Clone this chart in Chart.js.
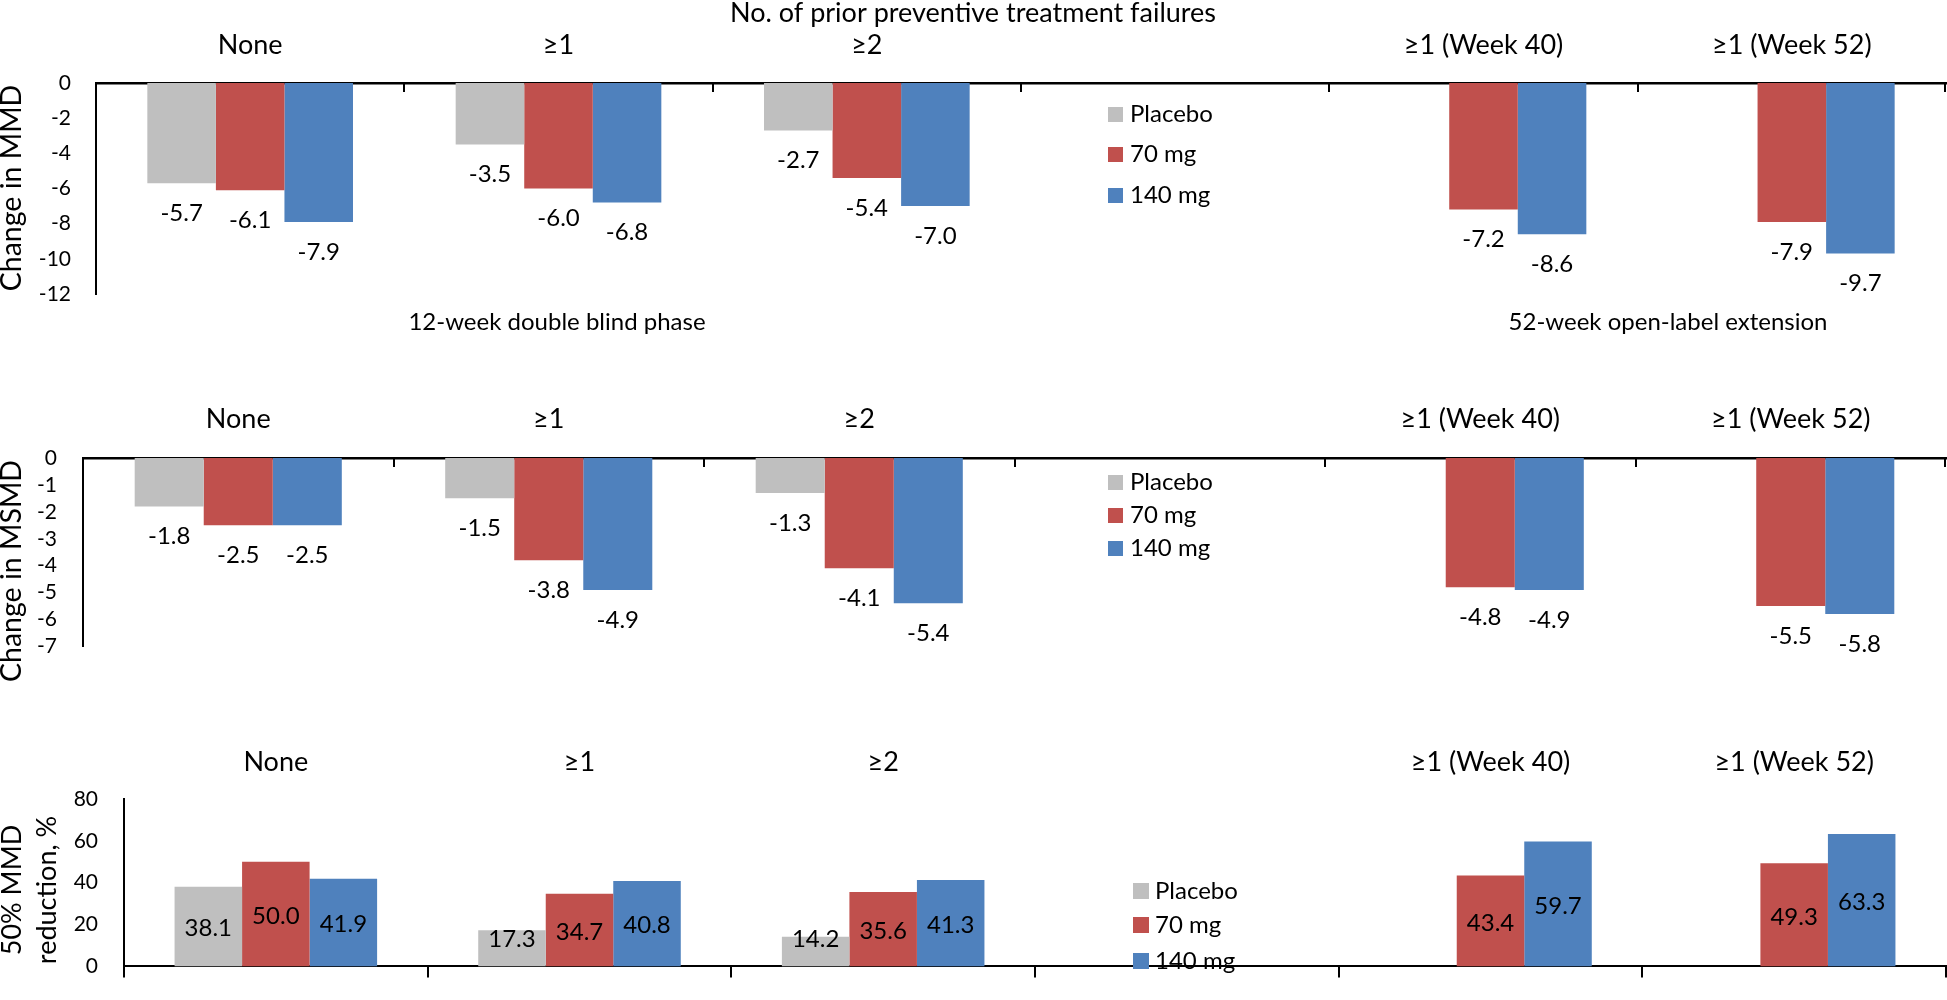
<!DOCTYPE html>
<html><head><meta charset="utf-8">
<script src="https://cdn.jsdelivr.net/npm/chart.js@4.4.1/dist/chart.umd.min.js"></script>
<style>
html,body{margin:0;padding:0;background:#fff;}
#wrap{position:relative;width:1947px;height:1000px;overflow:hidden;background:#fff;}
canvas{position:absolute;left:0;}
</style></head><body>
<div id="wrap">
<canvas id="c1" width="1947" height="340" style="top:0px"></canvas>
<canvas id="c2" width="1947" height="345" style="top:340px"></canvas>
<canvas id="c3" width="1947" height="345" style="top:660px"></canvas>
</div>
<script>
// ---- data ----
const categories = ['None', '≥1', '≥2', '', '≥1 (Week 40)', '≥1 (Week 52)'];
const seriesNames = ['Placebo', '70 mg', '140 mg'];

const mmdPlacebo = [-5.7, -3.5, -2.7, null, null, null];
const mmd70mg    = [-6.1, -6.0, -5.4, null, -7.2, -7.9];
const mmd140mg   = [-7.9, -6.8, -7.0, null, -8.6, -9.7];

const msmdPlacebo = [-1.8, -1.5, -1.3, null, null, null];
const msmd70mg    = [-2.5, -3.8, -4.1, null, -4.8, -5.5];
const msmd140mg   = [-2.5, -4.9, -5.4, null, -4.9, -5.8];

const respPlacebo = [38.1, 17.3, 14.2, null, null, null];
const resp70mg    = [50.0, 34.7, 35.6, null, 43.4, 49.3];
const resp140mg   = [41.9, 40.8, 41.3, null, 59.7, 63.3];

const mmdTicks  = [0, -2, -4, -6, -8, -10, -12];
const msmdTicks = [0, -1, -2, -3, -4, -5, -6, -7];
const respTicks = [0, 20, 40, 60, 80];

// ---- styles ----
const seriesColors = ['#BFBFBF', '#C0504D', '#4F81BD'];
const FONT = 'Lato, "Open Sans", sans-serif';
Chart.defaults.font.family = FONT;
Chart.defaults.color = '#000';

const decor = {
  id: 'decor',
  afterDatasetsDraw(chart, args, o) {
    const ctx = chart.ctx, area = chart.chartArea, xs = chart.scales.x;
    ctx.save();
    if (o.innerTicks) {
      const w = xs.getPixelForValue(1) - xs.getPixelForValue(0);
      const x0 = xs.getPixelForValue(0) - w / 2;
      ctx.strokeStyle = '#000'; ctx.lineWidth = 2;
      for (let i = 1; i <= categories.length; i++) {
        let x = Math.round(x0 + i * w);
        if (i === categories.length) x -= 1;
        ctx.beginPath(); ctx.moveTo(x, area.top); ctx.lineTo(x, area.top + o.innerTicks); ctx.stroke();
      }
    }
    // value labels
    ctx.font = '24px ' + FONT; ctx.fillStyle = '#000';
    ctx.textAlign = 'center'; ctx.textBaseline = 'middle';
    chart.data.datasets.forEach((ds, di) => {
      chart.getDatasetMeta(di).data.forEach((el, i) => {
        const v = ds.data[i];
        if (v === null || v === undefined) return;
        let y;
        if (o.labelMode === 'below') y = el.y + 30;
        else y = Math.min((el.y + el.base) / 2 + 2, el.base - 27);
        ctx.fillText(v.toFixed(1), el.x, y);
      });
    });
    // legend
    const lg = o.legend;
    seriesNames.forEach((n, k) => {
      const cy = lg.rows[k];
      ctx.fillStyle = seriesColors[k];
      ctx.fillRect(lg.x, Math.round(cy - lg.size / 2), lg.size, lg.size);
      ctx.fillStyle = '#000'; ctx.textAlign = 'left';
      ctx.fillText(n, lg.textX, cy);
    });
    // y-axis title
    ctx.font = o.yTitleSize + 'px ' + FONT; ctx.textAlign = 'center';
    o.yTitle.forEach(t => {
      ctx.save(); ctx.translate(t.x, t.y); ctx.rotate(-Math.PI / 2);
      ctx.fillText(t.text, 0, 0); ctx.restore();
    });
    // notes
    ctx.font = '24px ' + FONT;
    (o.notes || []).forEach(t => ctx.fillText(t.text, t.x, t.y));
    ctx.restore();
  }
};

function datasets(a, b, c) {
  return [a, b, c].map((d, k) => ({
    label: seriesNames[k], data: d, backgroundColor: seriesColors[k],
    borderWidth: 0, categoryPercentage: 0.667, barPercentage: 1.0
  }));
}

function yScale(ticksArr, width, pad) {
  return {
    min: Math.min(...ticksArr), max: Math.max(...ticksArr),
    afterBuildTicks(s) { s.ticks = ticksArr.map(v => ({ value: v })); },
    ticks: { font: { size: 21 }, padding: pad, color: '#000', autoSkip: false },
    grid: { display: false, drawTicks: false },
    border: { display: true, color: '#000', width: 2 },
    afterFit(s) { s.width = width; }
  };
}

function topLabels(height, pad, showBorder) {
  return {
    position: 'top', type: 'category', labels: categories, offset: true,
    grid: { display: false, drawTicks: false },
    border: { display: showBorder, color: '#000', width: 2.5 },
    ticks: { font: { size: 27 }, padding: pad, color: '#000', maxRotation: 0, autoSkip: false },
    afterFit(s) { s.height = height; }
  };
}

const base = { responsive: false, animation: false, devicePixelRatio: 1, events: [] };

// Panel 1: change in MMD
new Chart(document.getElementById('c1'), {
  type: 'bar',
  data: { labels: categories, datasets: datasets(mmdPlacebo, mmd70mg, mmd140mg) },
  options: Object.assign({}, base, {
    layout: { padding: { top: 0, left: 0, right: 1, bottom: 46 } },
    plugins: {
      legend: { display: false }, tooltip: { enabled: false },
      title: { display: true, text: 'No. of prior preventive treatment failures',
        font: { size: 27, weight: 'normal', lineHeight: 1.0 }, color: '#000', padding: 0 },
      decor: {
        innerTicks: 9, labelMode: 'below',
        legend: { x: 1108, textX: 1130, size: 15, rows: [114, 154, 195] },
        yTitleSize: 28.5,
        yTitle: [{ text: 'Change in MMD', x: 12, y: 188 }],
        notes: [{ text: '12-week double blind phase', x: 557, y: 322 },
                { text: '52-week open-label extension', x: 1668, y: 322 }]
      }
    },
    scales: { x: topLabels(56, 21.8, true), y: yScale(mmdTicks, 96, 25) }
  }),
  plugins: [decor]
});

// Panel 2: change in MSMD
new Chart(document.getElementById('c2'), {
  type: 'bar',
  data: { labels: categories, datasets: datasets(msmdPlacebo, msmd70mg, msmd140mg) },
  options: Object.assign({}, base, {
    layout: { padding: { top: 0, left: 0, right: 1, bottom: 37 } },
    plugins: {
      legend: { display: false }, tooltip: { enabled: false },
      decor: {
        innerTicks: 9, labelMode: 'below',
        legend: { x: 1108, textX: 1130, size: 15, rows: [142, 175, 208] },
        yTitleSize: 28.5,
        yTitle: [{ text: 'Change in MSMD', x: 12, y: 231 }]
      }
    },
    scales: { x: topLabels(118, 22.8, true), y: yScale(msmdTicks, 83, 26) }
  }),
  plugins: [decor]
});

// Panel 3: 50% MMD responders
new Chart(document.getElementById('c3'), {
  type: 'bar',
  data: { labels: categories, datasets: datasets(respPlacebo, resp70mg, resp140mg) },
  options: Object.assign({}, base, {
    layout: { padding: { top: 0, left: 0, right: 1, bottom: 5 } },
    plugins: {
      legend: { display: false }, tooltip: { enabled: false },
      decor: {
        innerTicks: 0, labelMode: 'inside',
        legend: { x: 1133, textX: 1155, size: 16, rows: [231, 265, 301] },
        yTitleSize: 27,
        yTitle: [{ text: '50% MMD', x: 12, y: 230 }, { text: 'reduction, %', x: 47, y: 230 }]
      }
    },
    scales: {
      x: {
        position: 'bottom', offset: true,
        ticks: { display: false },
        grid: { display: true, drawOnChartArea: false, drawTicks: true, tickLength: 11,
                color: '#000', lineWidth: 2, offset: true },
        border: { display: true, color: '#000', width: 2 },
        afterFit(s) { s.height = 11; }
      },
      x2: topLabels(139, 20.8, false),
      y: yScale(respTicks, 124, 26)
    }
  }),
  plugins: [decor]
});
</script>
</body></html>
